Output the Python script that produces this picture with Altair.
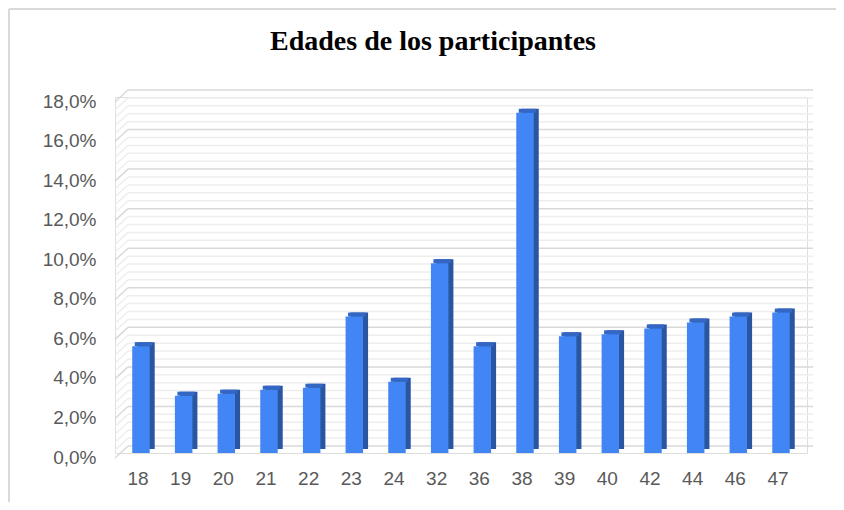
import altair as alt
import pandas as pd

# ---- data ----
ages = ["18", "19", "20", "21", "22", "23", "24", "32", "36", "38",
        "39", "40", "42", "44", "46", "47"]
pct = [5.4, 2.9, 3.0, 3.2, 3.3, 6.9, 3.6, 9.6, 5.4, 17.2,
       5.9, 6.0, 6.3, 6.6, 6.9, 7.1]
major_ticks = [0, 2, 4, 6, 8, 10, 12, 14, 16, 18]
minor_ticks = [round(m + k * 0.4, 1) for m in major_ticks[:-1] for k in (1, 2, 3, 4)]
title_text = "Edades de los participantes"

W, H = 692, 356
DEPTH_X, BACK_Y, FRONT_Y = 13, -7, 5

bars = pd.DataFrame({"edad": ages, "pct": pct})
major = pd.DataFrame({"pct": major_ticks})
minor = pd.DataFrame({"pct": minor_ticks})

yscale = alt.Scale(domain=[0, 18], nice=False, zero=True)
xscale = alt.Scale(paddingInner=0.59, paddingOuter=0.404)

yaxis = alt.Axis(values=major_ticks, grid=False, domain=False, ticks=False,
                 labelPadding=19, labelFontSize=19, labelColor="#595959",
                 labelFont="Liberation Sans", labelOffset=4,
                 labelExpr="replace(format(datum.value, '.1f'), '.', ',') + '%'")
xaxis = alt.Axis(labelAngle=0, domain=False, ticks=False, labelPadding=16,
                 labelFontSize=19, labelColor="#595959",
                 labelFont="Liberation Sans", labelOffset=-3)


def Y():
    return alt.Y("pct:Q", scale=yscale, axis=yaxis, title=None)


def X():
    return alt.X("edad:N", sort=None, scale=xscale, axis=xaxis, title=None)


def wall(df, color, width):
    back = alt.Chart(df).mark_rule(color=color, strokeWidth=width, yOffset=BACK_Y).encode(
        y=Y(), x=alt.value(DEPTH_X), x2=alt.value(W + 6))
    side = alt.Chart(df).mark_rule(color=color, strokeWidth=width,
                                   yOffset=FRONT_Y, y2Offset=BACK_Y).encode(
        y=Y(), y2="pct:Q", x=alt.value(0), x2=alt.value(DEPTH_X))
    return back + side


base = alt.Chart(bars)

side_bar = base.mark_bar(color="#2a55a0", xOffset=5, yOffset=-4, y2Offset=-4).encode(
    x=X(), y=Y())

cap_bar = base.mark_bar(color="#3466c4", xOffset=2.5, yOffset=-4).encode(
    x=X(), y=Y(), y2="pct:Q")

front_bar = base.mark_bar(color="#4285f4").encode(x=X(), y=Y())

title = alt.Chart(pd.DataFrame({"t": [title_text]})).mark_text(
    font="Liberation Serif", fontSize=28, fontWeight="bold", color="black",
    align="center", baseline="middle").encode(
    text="t:N", x=alt.value(W / 2 - 28), y=alt.value(-55))

border_left = alt.Chart(pd.DataFrame({"t": [0]})).mark_rule(color="#d9d9d9", strokeWidth=2).encode(
    x=alt.value(-106), y=alt.value(-88), y2=alt.value(H + 60))
border_top = alt.Chart(pd.DataFrame({"t": [0]})).mark_rule(color="#d9d9d9", strokeWidth=2).encode(
    x=alt.value(-106), x2=alt.value(W + 40), y=alt.value(-88))

chart = alt.layer(
    wall(minor, "#eeeeee", 1.5),
    wall(major, "#d9d9d9", 1.5),
    side_bar, cap_bar, front_bar,
    title, border_left, border_top,
).properties(
    width=W, height=H,
    autosize=alt.AutoSizeParams(type="none"),
    padding={"left": 107, "top": 89, "right": 29, "bottom": 49},
).configure_view(stroke=None).configure(background="white")

chart.save("out.html", embed_options={"renderer": "svg", "actions": False})
